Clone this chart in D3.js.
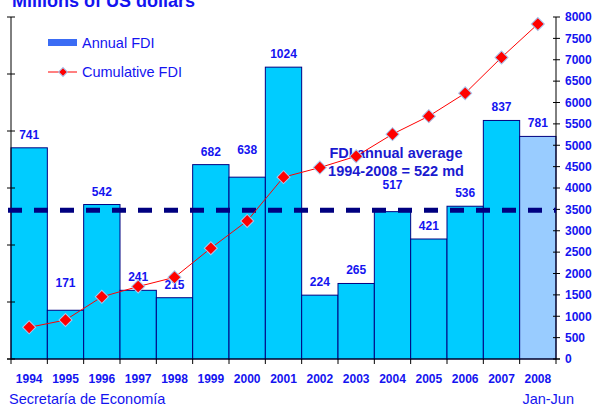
<!DOCTYPE html>
<html>
<head>
<meta charset="utf-8">
<script src="https://cdn.jsdelivr.net/npm/d3@7"></script>
<style>
  body { margin: 0; background: #fff; }
  svg { display: block; font-family: "Liberation Sans", Arial, sans-serif; }
</style>
</head>
<body>
<div id="chart"></div>
<script>
// data
var years = ["1994", "1995", "1996", "1997", "1998", "1999", "2000", "2001",
             "2002", "2003", "2004", "2005", "2006", "2007", "2008"];
var annualFDI = [741, 171, 542, 241, 215, 682, 638, 1024, 224, 265, 517, 421, 536, 837, 781];
var cumulativeFDI = [741, 912, 1454, 1695, 1910, 2592, 3230, 4254, 4478, 4743, 5260, 5681, 6217, 7054, 7835];
var averageFDI = 522;
var rightTicks = [0, 500, 1000, 1500, 2000, 2500, 3000, 3500, 4000, 4500, 5000, 5500, 6000, 6500, 7000, 7500, 8000];
var leftTicks = [0, 200, 400, 600, 800, 1000, 1200];
var partialYear = "2008";
var raisedLabels = ["1995", "2000", "2004"];

var width = 595,
    height = 407,
    plotL = 11,
    plotR = 556,
    plotT = 17,
    plotB = 359;

var blue = "#1414f0";

var svg = d3.select("#chart")
    .append("svg")
    .attr("width", width)
    .attr("height", height);

var x = d3.scaleBand().domain(years).range([plotL, plotR]).padding(0);
var yL = d3.scaleLinear().domain([0, 1200]).range([plotB, plotT]);
var yR = d3.scaleLinear().domain([0, 8000]).range([plotB, plotT]);

// bars
svg.append("g")
    .selectAll("rect")
    .data(years)
    .enter()
    .append("rect")
    .attr("x", function(d) { return x(d); })
    .attr("y", function(d, i) { return yL(annualFDI[i]); })
    .attr("width", x.bandwidth())
    .attr("height", function(d, i) { return plotB - yL(annualFDI[i]); })
    .attr("fill", function(d) { return d == partialYear ? "#99ccff" : "#00ccff"; })
    .attr("stroke", "#000080")
    .attr("stroke-width", 1);

// bar value labels
svg.append("g")
    .selectAll("text")
    .data(years)
    .enter()
    .append("text")
    .attr("x", function(d) { return x(d) + x.bandwidth() / 2; })
    .attr("y", function(d, i) {
        var off = raisedLabels.indexOf(d) >= 0 ? 23 : 9;
        return yL(annualFDI[i]) - off;
    })
    .attr("text-anchor", "middle")
    .attr("fill", blue)
    .style("font-size", "12px")
    .style("font-weight", "bold")
    .text(function(d, i) { return annualFDI[i]; });

// left axis (no labels)
var gL = svg.append("g");
gL.append("line")
    .attr("x1", plotL).attr("x2", plotL)
    .attr("y1", plotT).attr("y2", plotB)
    .attr("stroke", "#000").attr("stroke-width", 1);
gL.selectAll("line.t")
    .data(leftTicks)
    .enter()
    .append("line")
    .attr("class", "t")
    .attr("x1", plotL - 4).attr("x2", plotL + 4)
    .attr("y1", function(d) { return yL(d); })
    .attr("y2", function(d) { return yL(d); })
    .attr("stroke", "#000");

// right axis
var gR = svg.append("g");
gR.append("line")
    .attr("x1", plotR).attr("x2", plotR)
    .attr("y1", plotT).attr("y2", plotB)
    .attr("stroke", "#000");
gR.selectAll("line.t")
    .data(rightTicks)
    .enter()
    .append("line")
    .attr("class", "t")
    .attr("x1", plotR - 3).attr("x2", plotR + 4)
    .attr("y1", function(d) { return yR(d); })
    .attr("y2", function(d) { return yR(d); })
    .attr("stroke", "#000");
gR.selectAll("text")
    .data(rightTicks)
    .enter()
    .append("text")
    .attr("x", plotR + 9)
    .attr("y", function(d) { return yR(d); })
    .attr("dy", "0.36em")
    .attr("fill", blue)
    .style("font-size", "12px")
    .style("font-weight", "bold")
    .text(function(d) { return d; });

// x axis
var gX = svg.append("g");
gX.append("line")
    .attr("x1", plotL - 4).attr("x2", plotR + 4)
    .attr("y1", plotB).attr("y2", plotB)
    .attr("stroke", "#000");
gX.selectAll("line.t")
    .data(years.concat(["end"]))
    .enter()
    .append("line")
    .attr("class", "t")
    .attr("x1", function(d) { return d == "end" ? plotR : x(d); })
    .attr("x2", function(d) { return d == "end" ? plotR : x(d); })
    .attr("y1", plotB)
    .attr("y2", plotB + 5)
    .attr("stroke", "#000");
gX.selectAll("text")
    .data(years)
    .enter()
    .append("text")
    .attr("x", function(d) { return x(d) + x.bandwidth() / 2; })
    .attr("y", 382.5)
    .attr("text-anchor", "middle")
    .attr("fill", blue)
    .style("font-size", "12px")
    .style("font-weight", "bold")
    .text(function(d) { return d; });

// average line
svg.append("line")
    .attr("x1", plotL - 3).attr("x2", plotR)
    .attr("y1", yL(averageFDI)).attr("y2", yL(averageFDI))
    .attr("stroke", "#000080")
    .attr("stroke-width", 5)
    .attr("stroke-dasharray", "14,12");

svg.append("text")
    .attr("x", 396)
    .attr("y", 158)
    .attr("text-anchor", "middle")
    .attr("fill", "#1a1ad0")
    .style("font-size", "14.5px")
    .style("font-weight", "bold")
    .text("FDI annual average");
svg.append("text")
    .attr("x", 396)
    .attr("y", 176)
    .attr("text-anchor", "middle")
    .attr("fill", "#1a1ad0")
    .style("font-size", "14.5px")
    .style("font-weight", "bold")
    .text("1994-2008 = " + averageFDI + " md");

// cumulative line
var line = d3.line()
    .x(function(d, i) { return x(years[i]) + x.bandwidth() / 2; })
    .y(function(d) { return yR(d); });

svg.append("path")
    .datum(cumulativeFDI)
    .attr("d", line)
    .attr("fill", "none")
    .attr("stroke", "#ff0000")
    .attr("stroke-width", 1);

var diamond = d3.symbol().type(d3.symbolSquare).size(85);
svg.append("g")
    .selectAll("path")
    .data(cumulativeFDI)
    .enter()
    .append("path")
    .attr("d", diamond)
    .attr("transform", function(d, i) {
        return "translate(" + (x(years[i]) + x.bandwidth() / 2) + "," + yR(d) + ") rotate(45)";
    })
    .attr("fill", "#ff0000")
    .attr("stroke", "#a8c8f0")
    .attr("stroke-width", 1);

// legend
var lg = svg.append("g");
lg.append("rect")
    .attr("x", 48).attr("y", 39)
    .attr("width", 29).attr("height", 7)
    .attr("fill", "#3b6cf4");
lg.append("text")
    .attr("x", 82).attr("y", 48)
    .attr("fill", blue)
    .style("font-size", "14.5px")
    .text("Annual FDI");
lg.append("line")
    .attr("x1", 48).attr("x2", 77)
    .attr("y1", 72).attr("y2", 72)
    .attr("stroke", "#ff0000");
lg.append("path")
    .attr("d", d3.symbol().type(d3.symbolSquare).size(40))
    .attr("transform", "translate(63,72) rotate(45)")
    .attr("fill", "#ff0000")
    .attr("stroke", "#a8c8f0");
lg.append("text")
    .attr("x", 82).attr("y", 77)
    .attr("fill", blue)
    .style("font-size", "14.5px")
    .text("Cumulative FDI");

// title and source
svg.append("text")
    .attr("x", 12).attr("y", 7)
    .attr("fill", blue)
    .style("font-size", "18px")
    .style("font-weight", "bold")
    .text("Millions of US dollars");
svg.append("text")
    .attr("x", 9).attr("y", 404)
    .attr("fill", blue)
    .style("font-size", "14.5px")
    .text("Secretaría de Economía");
svg.append("text")
    .attr("x", 574).attr("y", 404)
    .attr("text-anchor", "end")
    .attr("fill", blue)
    .style("font-size", "14.5px")
    .text("Jan-Jun");
</script>
</body>
</html>
